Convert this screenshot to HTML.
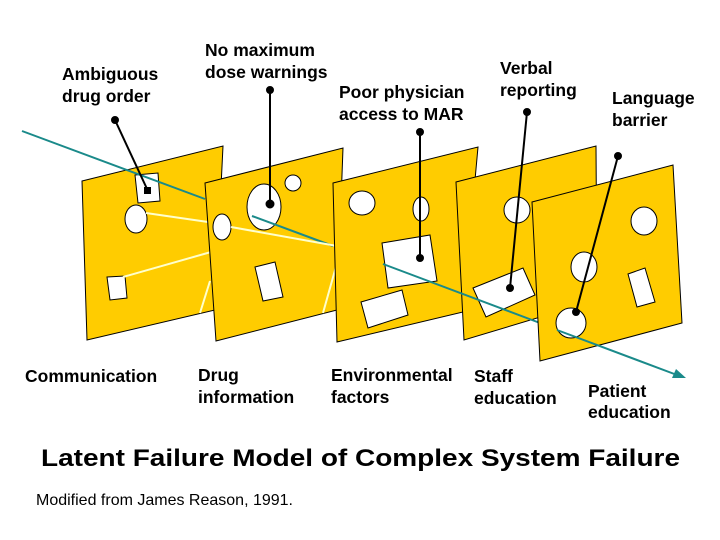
<!DOCTYPE html>
<html><head><meta charset="utf-8"><style>
body{margin:0;background:#fff;}
svg{display:block}
text{font-family:"Liberation Sans",Arial,sans-serif;}
.l{font-size:17.5px;font-weight:bold;fill:#000}
</style></head><body>
<svg width="720" height="540" viewBox="0 0 720 540" xmlns="http://www.w3.org/2000/svg">
<g stroke="#000" stroke-width="1">
<polygon points="82,181 223,146 215,310 87,340" fill="#FFCC00"/>
<polygon points="135,175 158,173 160,201 138,203" fill="#fff"/>
<ellipse cx="136" cy="219" rx="11" ry="14" fill="#fff"/>
<polygon points="107,277 125,276 127,298 110,300" fill="#fff"/>
</g>
<line x1="22" y1="131" x2="205" y2="199" stroke="#1a8a8a" stroke-width="2"/>
<line x1="146" y1="213" x2="208" y2="222" stroke="#ffffcc" stroke-width="2"/>
<line x1="123" y1="277" x2="211" y2="252" stroke="#ffffcc" stroke-width="2"/>
<line x1="200" y1="313" x2="210" y2="281" stroke="#ffffcc" stroke-width="2"/>
<g stroke="#000" stroke-width="1">
<polygon points="205,183 343,148 337,310 216,341" fill="#FFCC00"/>
<ellipse cx="264" cy="207" rx="17" ry="23" fill="#fff"/>
<circle cx="293" cy="183" r="8" fill="#fff"/>
<ellipse cx="222" cy="227" rx="9" ry="13" fill="#fff"/>
<polygon points="255,267 275,262 283,297 263,301" fill="#fff"/>
</g>
<line x1="252" y1="216" x2="333" y2="246" stroke="#1a8a8a" stroke-width="2"/>
<line x1="231" y1="227" x2="337" y2="246" stroke="#ffffcc" stroke-width="2"/>
<line x1="323" y1="313" x2="337" y2="263" stroke="#ffffcc" stroke-width="2"/>
<g stroke="#000" stroke-width="1">
<polygon points="333,183 478,147 463,312 337,342" fill="#FFCC00"/>
<ellipse cx="362" cy="203" rx="13" ry="12" fill="#fff"/>
<ellipse cx="421" cy="209" rx="8" ry="12" fill="#fff"/>
<polygon points="382,243 430,235 437,281 388,288" fill="#fff"/>
<polygon points="361,302 402,290 408,315 368,328" fill="#fff"/>
<polygon points="456,182 596,146 597,300 464,340" fill="#FFCC00"/>
<circle cx="517" cy="210" r="13" fill="#fff"/>
<polygon points="473,288 523,268 535,295 486,317" fill="#fff"/>
</g>
<line x1="383" y1="264" x2="540" y2="323" stroke="#1a8a8a" stroke-width="2"/>
<g stroke="#000" stroke-width="1">
<polygon points="532,202 673,165 682,323 540,361" fill="#FFCC00"/>
<ellipse cx="644" cy="221" rx="13" ry="14" fill="#fff"/>
<ellipse cx="584" cy="267" rx="13" ry="15" fill="#fff"/>
<circle cx="571" cy="323" r="15" fill="#fff"/>
<polygon points="628,274 645,268 655,302 637,307" fill="#fff"/>
</g>
<line x1="557" y1="330" x2="677" y2="375" stroke="#1a8a8a" stroke-width="2"/>
<polygon points="686,378 672,378 676,369" fill="#1a8a8a"/>
<g stroke="#000" stroke-width="2" fill="#000">
<line x1="115" y1="120" x2="148" y2="191"/><rect x="144" y="187" width="7" height="7" stroke="none"/><circle cx="115" cy="120" r="3"/>
<line x1="270" y1="90" x2="270" y2="204"/><circle cx="270" cy="90" r="3"/><circle cx="270" cy="204" r="3.5"/>
<line x1="420" y1="132" x2="420" y2="258"/><circle cx="420" cy="132" r="3"/><circle cx="420" cy="258" r="3"/>
<line x1="527" y1="112" x2="510" y2="288"/><circle cx="527" cy="112" r="3"/><circle cx="510" cy="288" r="3"/>
<line x1="618" y1="156" x2="576" y2="312"/><circle cx="618" cy="156" r="3"/><circle cx="576" cy="312" r="3"/>
</g>
<text class="l" x="62" y="80">Ambiguous</text>
<text class="l" x="62" y="102">drug order</text>
<text class="l" x="205" y="56">No maximum</text>
<text class="l" x="205" y="78">dose warnings</text>
<text class="l" x="339" y="98">Poor physician</text>
<text class="l" x="339" y="120">access to MAR</text>
<text class="l" x="500" y="74">Verbal</text>
<text class="l" x="500" y="96">reporting</text>
<text class="l" x="612" y="104">Language</text>
<text class="l" x="612" y="126">barrier</text>
<text class="l" x="25" y="382">Communication</text>
<text class="l" x="198" y="381">Drug</text>
<text class="l" x="198" y="403">information</text>
<text class="l" x="331" y="381">Environmental</text>
<text class="l" x="331" y="403">factors</text>
<text class="l" x="474" y="382">Staff</text>
<text class="l" x="474" y="404">education</text>
<text class="l" x="588" y="397">Patient</text>
<text class="l" x="588" y="418">education</text>
<text x="41" y="466" font-size="24" font-weight="bold" fill="#000" textLength="639" lengthAdjust="spacingAndGlyphs">Latent Failure Model of Complex System Failure</text>
<text x="36" y="505" font-size="16" fill="#000" textLength="257" lengthAdjust="spacingAndGlyphs">Modified from James Reason, 1991.</text>
</svg>
</body></html>
